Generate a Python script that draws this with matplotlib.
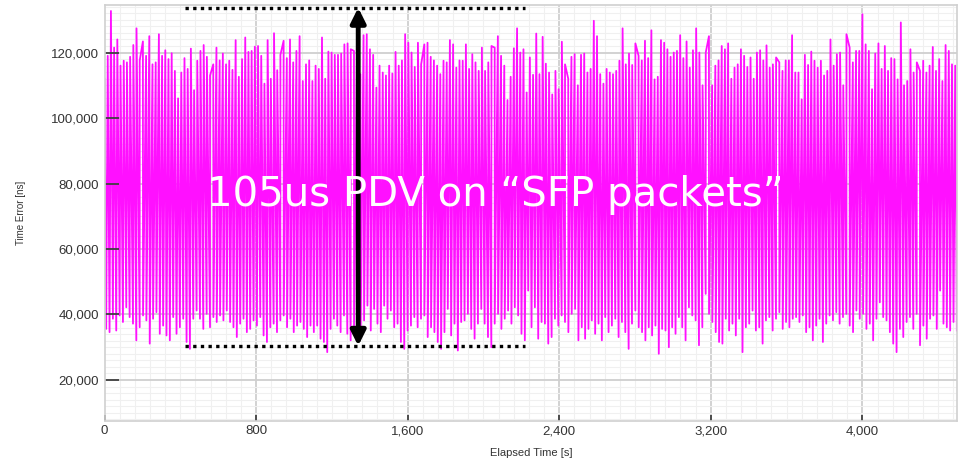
import numpy as np
import matplotlib
matplotlib.use("Agg")
import matplotlib.pyplot as plt
from matplotlib.ticker import FuncFormatter

# upper swing of the time error trace, in thousands of ns
peaks_k = [112, 119, 132.7, 121.5, 124, 116, 117.5, 117, 118.7, 122.3, 127.4, 117.6, 123.4, 119, 125,
           116.4, 117, 125.6, 119, 120.7, 118, 119.8, 114.4, 106, 113.9, 118.3, 115, 121.2, 108.5, 117.5,
           120.5, 122.3, 118.7, 113, 116.4, 121.5, 117.6, 119.7, 116.4, 117.5, 114.7, 123.8, 112.6, 118,
           124.6, 120.2, 120.5, 121.8, 122, 119, 110.5, 123.8, 112, 125.9, 114.6, 119.3, 123.6, 118.3, 124,
           117, 120.5, 125, 111.3,
           116.4, 117.6, 111.3, 116, 115, 124.6, 112, 120.3, 120, 119.3, 119.3, 119.7, 122.5, 122.8, 121,
           120.5, 123.8, 113.4, 125.3, 125.6, 121, 119.3, 109.3, 116, 113.9, 113, 116, 113.6, 120.2, 116,
           117.6, 125.6, 123, 120, 115.6, 123, 116.4, 122.5, 123, 118.7, 117.6, 116, 113.4, 117.5, 117,
           123.8, 122.5, 115.4, 117.6, 117.5, 122.5, 115, 119.5, 117, 114.4, 121.5, 114.4, 117, 122, 121.5,
           125, 119, 116, 105.5, 112.6, 121.3, 127.4, 120, 121, 107.8, 118.5, 113.2, 125.8, 113.4, 124.8,
           116.6, 113.9, 107.2, 114.4, 108.8, 123.3, 116.4, 112, 118.7, 119.5, 110, 119.3, 119.7, 113.9, 115,
           129.7, 125, 113.4, 110.5, 115, 113.9, 113.4, 114.4, 117.5, 127.4, 116.4, 119.7, 116.2, 122.8, 119,
           117.6, 123.6, 118.3, 126.8, 111.8, 112.6, 123.8, 123, 121, 118.7, 120, 120.5, 125.3, 118.3, 123.4,
           115.4, 120.7, 127.4, 120, 110, 120, 125, 110, 116, 117.6, 122, 121, 122.8, 112,
           115.4, 116.4, 121, 119, 115.6, 118.5, 112, 120, 120.7, 117.6, 122.2, 115.4, 116.4, 118.5, 117,
           114.4, 117.6, 117.6, 125.3, 113.9, 113.9, 105.7, 119.3, 116.2, 120.3, 117.5, 115.4, 117.5, 113,
           114.4, 124, 116, 119.5, 120, 110, 125.6, 121.5, 117, 120.5, 120.5, 131.7, 122.5, 120.5, 108.8,
           119.7, 122.8, 115, 122, 114.4, 118.3, 118, 111.8, 129.2, 110, 111.3, 121, 113.9, 117, 114.4,
           117.5, 113.9, 116, 121.7, 114.4, 118, 111.3, 122.3, 120.5, 116.4, 116]

# lower swing of the trace, in thousands of ns
troughs_k = [35.6, 34.6, 38.7, 35.1, 39.7, 37.7, 42.2, 39.2, 37.2, 32.1, 36.1, 39.7, 38.2, 31.1, 38.7,
             40.7, 34.1, 36.6, 33.6, 32.1, 39.2, 34.1, 36.1, 38.7, 31.6, 29.5, 38.7, 41.2, 38.7, 35.6,
             40.2, 36.1, 39.2, 37.7, 39.7, 38.2, 41.2, 37.7, 36.1, 33.1, 37.2, 38.7, 34.6, 35.6, 38.2,
             36.6, 39.2, 33.6, 31.6, 36.1, 37.2, 34.6, 38.2, 39.7, 36.1, 38.7, 34.6, 36.6, 37.7, 35.6,
             33.1, 36.6, 34.6, 36.6, 32.6, 31.6, 28.5, 35.6, 38.7, 36.6, 34.6, 39.7, 34.1, 32.1, 36.6,
             34.6, 36.1, 38.2, 42.7, 35.1,
             41.7, 37.2, 34.6, 42.7, 38.7, 41.2, 36.1, 37.2, 31.6, 29.5, 35.1, 36.6, 39.2, 36.1, 38.7,
             39.7, 33.1, 36.1, 34.6, 31.6, 29.5, 34.6, 41.7, 33.6, 37.2, 29, 37.7, 38.2, 40.2, 35.6,
             32.6, 37.2, 41.7, 37.2, 33.1, 30, 37.2, 40.2, 35.6, 38.7, 41.2, 37.2, 42.2, 39.7, 34.1,
             32.1, 47.3, 36.1, 42.2, 32.6, 37.7, 37.2, 31.1, 33.1, 38.7, 36.6, 39.7, 37.7, 34.6, 40.2,
             41.7, 32.1, 36.1, 32.6, 35.6, 38.2, 34.1, 37.2, 32.1, 39.2, 34.6, 36.6, 38.7, 33.1, 37.7,
             34.6, 29.5, 37.2, 41.2, 36.1, 34.6, 32.1, 36.1, 33.6, 36.6, 28,
             35.6, 35.1, 30, 36.1, 34.1, 39.2, 36.1, 32.1, 42.2, 39.7, 38.2, 30.6, 36.1, 46.3, 40.2,
             37.7, 34.6, 31.6, 31.1, 38.7, 35.1, 37.2, 33.6, 38.7, 28.5, 36.1, 37.2, 41.2, 35.1, 36.1,
             31.1, 38.2, 39.2, 35.1, 38.7, 40.7, 35.6, 37.7, 36.1, 38.7, 39.2, 37.7, 39.7, 34.6, 36.1,
             32.1, 36.6, 38.7, 31.6, 37.2, 39.7, 38.2, 40.7, 37.2, 39.2, 40.2, 36.6, 34.6, 41.2, 38.7,
             40.2, 35.6, 37.2, 32.1, 38.7, 43.7, 39.2, 38.2, 34.6, 31.1, 28.5, 35.6, 33.1, 37.7, 39.2,
             35.6, 40.2, 30.6, 36.6, 32.6, 38.7, 39.7, 35.6, 47.3, 37.2, 36.1, 35.1, 37.7, 35.1]

x_ticks = [0, 800, 1600, 2400, 3200, 4000]
y_ticks = [20000, 40000, 60000, 80000, 100000, 120000]
annotation = "105us PDV on \u201cSFP packets\u201d"

# sample times: peaks and troughs spread over the run, troughs half a step later
t_end = 4490
tp = np.linspace(0, t_end, len(peaks_k))
tt = np.linspace(0, t_end, len(troughs_k)) + t_end / len(troughs_k) / 2
t = np.concatenate([tp, tt])
v = np.concatenate([np.array(peaks_k), np.array(troughs_k)]) * 1000
order = np.argsort(t)
t, v = t[order], v[order]

plt.rcParams['font.family'] = ['Liberation Sans', 'DejaVu Sans']

fig = plt.figure(figsize=(9.59, 4.62), dpi=100)
ax = fig.add_axes([0.109, 0.089, 0.889, 0.9])
ax.set_xlim(0, 4500)
ax.set_ylim(7500, 134500)

# grid drawn by hand so it sits under the trace while ticks stay on top
for gx in np.arange(80, 4500, 80):
    major = gx % 800 == 0
    ax.axvline(gx, color='#cfcfcf' if major else '#f0f0f0', lw=1.3 if major else 0.8, zorder=0)
for gy in np.arange(8000, 134500, 2000):
    major = gy % 20000 == 0
    ax.axhline(gy, color='#cfcfcf' if major else '#f0f0f0', lw=1.3 if major else 0.8, zorder=0)

ax.plot(t, v, color='#ff10ff', lw=1.3, zorder=1)

ax.set_xticks(x_ticks)
ax.set_yticks(y_ticks)
fmt = FuncFormatter(lambda val, pos: f"{int(val):,}")
ax.xaxis.set_major_formatter(fmt)
ax.yaxis.set_major_formatter(fmt)

ax.tick_params(axis='y', which='major', direction='in', length=10, width=1.3,
               color='#404040', labelsize=9.5, labelcolor='#333333', pad=4)
ax.tick_params(axis='x', which='major', direction='in', length=4, width=1.3,
               color='#404040', labelsize=9.5, labelcolor='#333333', pad=3)

for s in ax.spines.values():
    s.set_color('#d0d0d0')
    s.set_linewidth(1.2)

ax.set_xlabel("Elapsed Time [s]", fontsize=8, color='#333333', labelpad=8)
ax.set_ylabel("Time Error [ns]", fontsize=7, color='#333333', labelpad=18)

# PDV span markers
y_top, y_bot = 133700, 30400
for yy in (y_top, y_bot):
    ax.plot([425, 2220], [yy, yy], color='black', lw=2.4, ls=(0, (1, 1.3)),
            dash_capstyle='butt', clip_on=False, zorder=5)
ax.annotate('', xy=(1339, y_bot), xytext=(1339, y_top),
            arrowprops=dict(arrowstyle='<|-|>', color='black', lw=3.5,
                            mutation_scale=22, shrinkA=0, shrinkB=0),
            annotation_clip=False, zorder=6)

ax.text(540, 76500, annotation, color='white', fontsize=29,
        family='DejaVu Sans', va='center', ha='left', zorder=7)

fig.savefig("out.png", dpi=100)
